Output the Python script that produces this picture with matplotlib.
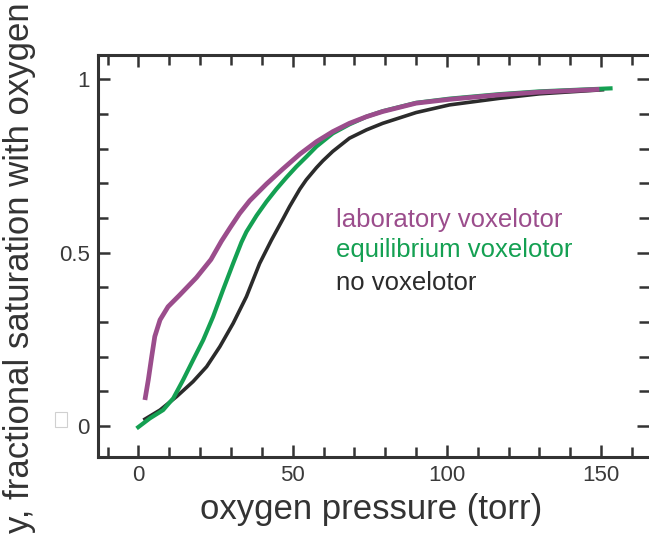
import matplotlib
matplotlib.use("Agg")
import matplotlib.pyplot as plt
from matplotlib.patches import Rectangle
from matplotlib.ticker import MultipleLocator

plt.rcParams['font.family'] = ['Liberation Sans', 'DejaVu Sans']

# oxygen pressure (torr) / fractional saturation
lab_x = [2.1, 3.2, 4.3, 5.3, 7.0, 9.6, 13.4, 18.8, 23.5, 26.9, 29.8, 32.8,
         36.1, 41.5, 46.9, 52.3, 57.7, 63.0, 68.4, 73.9, 79.2, 84.6, 90.0,
         100.8, 117.0, 130.0, 149.4]
lab_y = [0.075, 0.133, 0.2, 0.258, 0.306, 0.344, 0.378, 0.428, 0.48, 0.533,
         0.573, 0.613, 0.65, 0.698, 0.742, 0.784, 0.82, 0.849, 0.873, 0.892,
         0.907, 0.919, 0.931, 0.942, 0.955, 0.963, 0.971]

eq_x = [-0.6, 3.7, 8.0, 11.3, 14.5, 17.7, 21.0, 24.2, 27.4, 30.7, 33.4, 35.0,
        38.3, 41.5, 44.7, 48.0, 51.2, 54.5, 57.7, 63.0, 68.4, 73.9, 79.2,
        84.6, 90.0, 100.8, 117.0, 130.0, 153.7]
eq_y = [-0.007, 0.022, 0.046, 0.08, 0.133, 0.19, 0.248, 0.315, 0.392, 0.469,
        0.53, 0.56, 0.607, 0.647, 0.683, 0.717, 0.748, 0.777, 0.806, 0.844,
        0.87, 0.892, 0.908, 0.92, 0.932, 0.944, 0.957, 0.965, 0.974]

no_x = [1.6, 7.0, 12.4, 17.7, 22.1, 26.4, 30.7, 35.0, 39.3, 43.1, 46.9, 49.0,
        52.3, 54.4, 57.7, 59.8, 63.0, 68.4, 73.9, 79.2, 90.0, 100.8, 117.0,
        130.0, 151.0]
no_y = [0.017, 0.046, 0.085, 0.128, 0.171, 0.229, 0.296, 0.373, 0.469, 0.536,
        0.598, 0.633, 0.683, 0.71, 0.745, 0.765, 0.792, 0.83, 0.854, 0.873,
        0.904, 0.926, 0.945, 0.958, 0.97]

labels = ['laboratory voxelotor', 'equilibrium voxelotor', 'no voxelotor']
colors = ['#9b4d8c', '#14a052', '#2b2b2b']

ytick_vals = [0, 0.5, 1]
ytick_text = ['0', '0.5', '1']

fig = plt.figure(figsize=(6.49, 5.36), dpi=100)
ax = fig.add_axes([0.1515, 0.148, 0.8485, 0.7494])

ax.plot(no_x, no_y, color=colors[2], lw=2.6, solid_capstyle='butt',
        solid_joinstyle='round')
ax.plot(eq_x, eq_y, color=colors[1], lw=3.0, solid_capstyle='butt',
        solid_joinstyle='round')
ax.plot(lab_x, lab_y, color=colors[0], lw=3.4, solid_capstyle='butt',
        solid_joinstyle='round')

ax.set_xlim(-13, 165.5)
ax.set_ylim(-0.0885, 1.07)

ax.xaxis.set_major_locator(MultipleLocator(50))
ax.xaxis.set_minor_locator(MultipleLocator(10))
ax.set_yticks(ytick_vals)
ax.set_yticklabels(ytick_text)
ax.yaxis.set_minor_locator(MultipleLocator(0.1))

ax.tick_params(which='both', direction='in', top=True, right=True,
               width=1.8, color='#333333', labelcolor='#3a3a3a', labelsize=16)
ax.tick_params(which='major', length=8.5)
ax.tick_params(which='minor', length=7)
ax.tick_params(axis='x', pad=6)
ax.tick_params(axis='y', pad=6)

for side in ['left', 'bottom', 'top']:
    ax.spines[side].set_linewidth(2.2)
    ax.spines[side].set_color('#333333')
ax.spines['right'].set_visible(False)

# the two leftmost bottom ticks are tinted green in the reference
for t in ax.xaxis.get_major_ticks():
    if abs(t.get_loc()) < 1e-6:
        t.tick1line.set_color('#1d6b45')
for t in ax.xaxis.get_minor_ticks():
    if abs(t.get_loc() + 10) < 1e-6:
        t.tick1line.set_color('#1d6b45')

ax.set_xlabel('oxygen pressure (torr)', fontsize=25, color='#333333')
ax.xaxis.set_label_coords(0.495, -0.09)
ax.set_ylabel('y, fractional saturation with oxygen', fontsize=25,
              color='#333333')
ax.yaxis.set_label_coords(-0.113, 0.47)

text_y = [0.5726, 0.4979, 0.415]
for lab, col, ty in zip(labels, colors, text_y):
    ax.text(0.4316, ty, lab, transform=ax.transAxes, color=col,
            fontsize=18.5, va='baseline', ha='left')

# small empty box next to the zero label
fig.patches.append(Rectangle((55 / 649, 1 - 427 / 536), 12 / 649, 15 / 536,
                             transform=fig.transFigure, facecolor='white',
                             edgecolor='#d0d0d0', lw=0.8))

fig.savefig('out.png', dpi=100)
